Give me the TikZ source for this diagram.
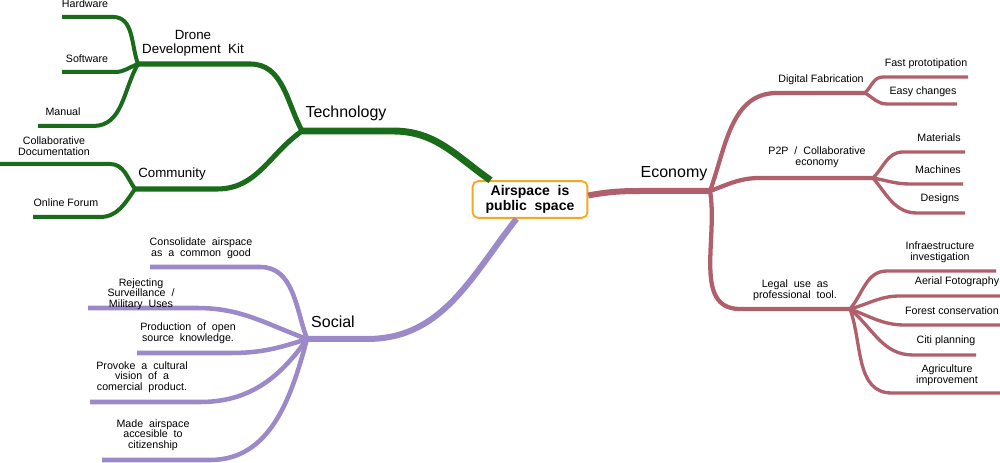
\documentclass[tikz,border=0pt]{standalone}
\usepackage{fontspec}
\setmainfont{Liberation Sans}
\definecolor{techgreen}{RGB}{26,108,26}
\definecolor{soclav}{RGB}{155,137,201}
\definecolor{ecomauve}{RGB}{176,96,107}
\definecolor{huborange}{RGB}{246,168,36}

\begin{document}
\begin{tikzpicture}[x=0.75pt,y=0.75pt,
  hubbox/.style={draw=huborange, line width=1.4pt, rounded corners=4pt, fill=white,
    minimum width=86pt, minimum height=27.5pt, inner sep=0pt, align=center,
    font=\bfseries\fontsize{10.5}{11.5}\selectfont},
  bough/.style={inner sep=0pt, font=\fontsize{12}{13}\selectfont},
  twig/.style={inner sep=0pt, align=center, font=\fontsize{10}{10.5}\selectfont},
  leaf/.style={inner sep=0pt, align=center, font=\fontsize{8}{8}\selectfont},
  techline/.style={draw=techgreen},
  socline/.style={draw=soclav},
  ecoline/.style={draw=ecomauve}]
\useasboundingbox (0,0) rectangle (1000,-463);
\node[hubbox] (hub) at (530,-199.5) {Airspace\ \ is\\public\ \ space};

% Technology
\coordinate (tech-k) at (393,-131);
\coordinate (tech) at (302,-131);
\draw[techline, line width=5.2pt] (hub.154) to[out=145,in=0] (tech-k) -- (tech);
\node[bough] (tech-lbl) at (346,-113) {Technology};

\coordinate (dk-k) at (250,-64);
\coordinate (dk) at (138,-64);
\draw[techline, line width=3.8pt] (tech) to[out=118,in=0] (dk-k) -- (dk);
\node[twig] (dk-lbl) at (193,-43) {Drone\\Development\ \ Kit};

\coordinate (com-k) at (217,-189);
\coordinate (com) at (135,-189);
\draw[techline, line width=3.8pt] (tech) to[out=215,in=0] (com-k) -- (com);
\node[twig] (com-lbl) at (172,-174) {Community};

\coordinate (hw-k) at (113,-17);
\coordinate (hw) at (62,-17);
\draw[techline, line width=3pt] (dk) to[out=110,in=0] (hw-k) -- (hw);
\node[leaf] (hw-lbl) at (85,-4) {Hardware};

\coordinate (sw-k) at (115,-72);
\coordinate (sw) at (62,-72);
\draw[techline, line width=3pt] (dk) to[out=200,in=0] (sw-k) -- (sw);
\node[leaf] (sw-lbl) at (87,-59) {Software};

\coordinate (man-k) at (93,-126);
\coordinate (man) at (38,-126);
\draw[techline, line width=3pt] (dk) to[out=240,in=0] (man-k) -- (man);
\node[leaf] (man-lbl) at (63,-112) {Manual};

\coordinate (doc-k) at (110,-164);
\coordinate (doc) at (0,-164);
\draw[techline, line width=3pt] (com) to[out=125,in=0] (doc-k) -- (doc);
\node[leaf] (doc-lbl) at (54,-146) {Collaborative\\Documentation};

\coordinate (forum-k) at (100,-217);
\coordinate (forum) at (33,-217);
\draw[techline, line width=3pt] (com) to[out=235,in=0] (forum-k) -- (forum);
\node[leaf] (forum-lbl) at (66,-203) {Online Forum};

% Social
\coordinate (soc-k) at (367,-339);
\coordinate (soc) at (307,-339);
\draw[socline, line width=4.5pt] (hub.235) to[out=232,in=0] (soc-k) -- (soc);
\node[bough] (soc-lbl) at (333,-322) {Social};

\coordinate (cons-k) at (260,-267);
\coordinate (cons) at (150,-267);
\draw[socline, line width=3.4pt] (soc) to[out=110,in=0] (cons-k) -- (cons);
\node[leaf] (cons-lbl) at (201,-248) {Consolidate\ \ airspace\\as\ \ a\ \ common\ \ good};

\coordinate (rej-k) at (197,-308);
\coordinate (rej) at (88,-308);
\draw[socline, line width=3.4pt] (soc) to[out=160,in=0] (rej-k) -- (rej);
\node[leaf] (rej-lbl) at (141,-294) {Rejecting\\Surveillance\ \ /\\Military\ \ Uses};

\coordinate (prod-k) at (230,-353);
\coordinate (prod) at (137,-353);
\draw[socline, line width=3.4pt] (soc) to[out=198,in=0] (prod-k) -- (prod);
\node[leaf] (prod-lbl) at (188,-333) {Production\ \ of\ \ open\\source\ \ knowledge.};

\coordinate (prov-k) at (200,-402);
\coordinate (prov) at (90,-402);
\draw[socline, line width=3.4pt] (soc) to[out=235,in=0] (prov-k) -- (prov);
\node[leaf] (prov-lbl) at (142,-377) {Provoke\ \ a\ \ cultural\\vision\ \ of\ \ a\\comercial\ \ product.};

\coordinate (made-k) at (210,-460);
\coordinate (made) at (102,-460);
\draw[socline, line width=3.4pt] (soc) to[out=255,in=0] (made-k) -- (made);
\node[leaf] (made-lbl) at (153,-435) {Made\ \ airspace\\accesible\ \ to\\citizenship};

% Economy
\coordinate (eco-k) at (640,-191);
\coordinate (eco) at (710,-191);
\draw[ecoline, line width=4.5pt] (hub.4) to[out=10,in=180] (eco-k) -- (eco);
\node[bough] (eco-lbl) at (674,-174) {Economy};

\coordinate (fab-k) at (777,-93);
\coordinate (fab) at (865,-93);
\draw[ecoline, line width=3.2pt] (eco) to[out=70,in=180] (fab-k) -- (fab);
\node[leaf] (fab-lbl) at (821,-80) {Digital Fabrication};

\coordinate (p2p-k) at (760,-178);
\coordinate (p2p) at (873,-178);
\draw[ecoline, line width=3.2pt] (eco) to[out=20,in=180] (p2p-k) -- (p2p);
\node[leaf] (p2p-lbl) at (817,-157.5) {P2P\ \ /\ \ Collaborative\\economy};

\coordinate (legal-k) at (740,-309);
\coordinate (legal) at (850,-309);
\draw[ecoline, line width=3.2pt] (eco) to[out=280,in=180] (legal-k) -- (legal);
\node[leaf] (legal-lbl) at (795,-290.5) {Legal\ \ use\ \ as\\professional\ \ tool.};

\coordinate (fast-k) at (883,-77);
\coordinate (fast) at (968,-77);
\draw[ecoline, line width=2.5pt] (fab) to[out=45,in=180] (fast-k) -- (fast);
\node[leaf] (fast-lbl) at (926,-64) {Fast prototipation};

\coordinate (easy-k) at (887,-104);
\coordinate (easy) at (957,-104);
\draw[ecoline, line width=2.5pt] (fab) to[out=-30,in=180] (easy-k) -- (easy);
\node[leaf] (easy-lbl) at (923,-92) {Easy changes};

\coordinate (mat-k) at (903,-152);
\coordinate (mat) at (965,-152);
\draw[ecoline, line width=2.5pt] (p2p) to[out=45,in=180] (mat-k) -- (mat);
\node[leaf] (mat-lbl) at (939,-138) {Materials};

\coordinate (mach-k) at (910,-184);
\coordinate (mach) at (963,-184);
\draw[ecoline, line width=2.5pt] (p2p) to[out=-10,in=180] (mach-k) -- (mach);
\node[leaf] (mach-lbl) at (938,-170) {Machines};

\coordinate (des-k) at (917,-213);
\coordinate (des) at (965,-213);
\draw[ecoline, line width=2.5pt] (p2p) to[out=-50,in=180] (des-k) -- (des);
\node[leaf] (des-lbl) at (940,-199) {Designs};

\coordinate (infra-k) at (887,-271);
\coordinate (infra) at (996,-271);
\draw[ecoline, line width=2.5pt] (legal) to[out=50,in=180] (infra-k) -- (infra);
\node[leaf] (infra-lbl) at (940,-252) {Infraestructure\\investigation};

\coordinate (aer-k) at (900,-296);
\coordinate (aer) at (1000,-296);
\draw[ecoline, line width=2.5pt] (legal) to[out=15,in=180] (aer-k) -- (aer);
\node[leaf] (aer-lbl) at (957,-282) {Aerial Fotography};

\coordinate (for-k) at (905,-325);
\coordinate (for) at (1000,-325);
\draw[ecoline, line width=2.5pt] (legal) to[out=-20,in=180] (for-k) -- (for);
\node[leaf] (for-lbl) at (952,-311) {Forest conservation};

\coordinate (citi-k) at (913,-355);
\coordinate (citi) at (976,-355);
\draw[ecoline, line width=2.5pt] (legal) to[out=-40,in=180] (citi-k) -- (citi);
\node[leaf] (citi-lbl) at (946,-341) {Citi planning};

\coordinate (agri-k) at (892,-393);
\coordinate (agri) at (1000,-393);
\draw[ecoline, line width=2.5pt] (legal) to[out=-70,in=180] (agri-k) -- (agri);
\node[leaf] (agri-lbl) at (947,-375.5) {Agriculture\\improvement};
\end{tikzpicture}
\end{document}
